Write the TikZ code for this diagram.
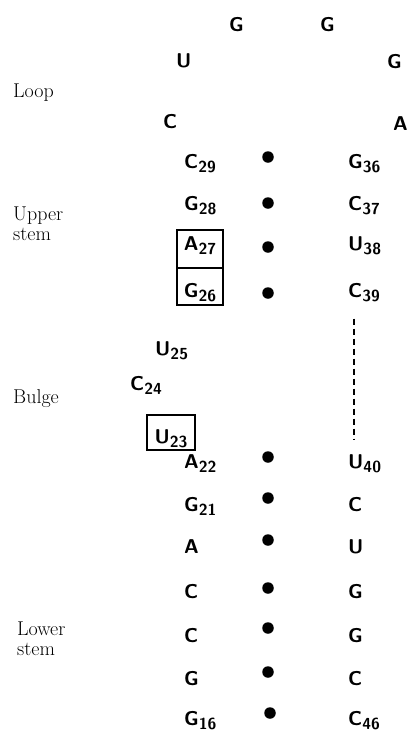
\documentclass[tikz,border=0pt]{standalone}
\usepackage{tikz}
\usetikzlibrary{positioning}
\newcommand\nsub[1]{\raisebox{-4pt}{\fontsize{16}{16}\selectfont #1}}

\begin{document}
\begin{tikzpicture}[
  x=1pt, y=-1pt,
  nt/.style={anchor=base west, inner sep=0pt, font=\fontsize{20}{22}\selectfont\sffamily\bfseries},
  lab/.style={anchor=base west, inner sep=0pt, align=left, font=\fontsize{20}{20}\selectfont},
  bx/.style={nt, anchor=base, draw, line width=2.8pt, minimum width=46pt},
  pair/.style={circle, fill, inner sep=0pt, minimum size=11.5pt},
  dotline/.style={line width=2.8pt, dash pattern=on 6pt off 4pt}
]
\useasboundingbox (0,0) rectangle (409,734);
% labels
\node[lab] (lloop) at (13,97) {Loop};
\node[lab, anchor=north west] (lupper) at (13,207) {Upper\\stem};
\node[lab] (lbulge) at (13,403) {Bulge};
\node[lab, anchor=north west] (llower) at (17,622) {Lower\\stem};
% loop
\node[nt] (g1) at (229,31) {G};
\node[nt] (g2) at (320,31) {G};
\node[nt] (u1) at (176,67) {U};
\node[nt] (g3) at (387,68) {G};
\node[nt] (c1) at (163,128) {C};
\node[nt] (a1) at (393,130) {A};
% upper stem
\node[nt] (c29) at (184,168) {C\nsub{29}};
\node[nt] (g28) at (184,210) {G\nsub{28}};
\node[bx, text height=20pt, text depth=18pt] (a27) at (200,250) {A\nsub{27}};
\node[bx, text height=29pt, text depth=8pt] (g26) at (200,297) {G\nsub{26}};
\node[nt] (g36) at (348,168) {G\nsub{36}};
\node[nt] (c37) at (348,210) {C\nsub{37}};
\node[nt] (u38) at (348,250) {U\nsub{38}};
\node[nt] (c39) at (348,297) {C\nsub{39}};
\node[pair] (p29) at (268,157) {};
\node[pair] (p28) at (268,203) {};
\node[pair] (p27) at (268,247) {};
\node[pair] (p26) at (268,293) {};
% bulge
\node[nt] (u25) at (155,355) {U\nsub{25}};
\node[nt] (c24) at (130,390) {C\nsub{24}};
\node[bx, text height=28pt, text depth=7pt, minimum width=48pt] (u23) at (171,443) {U\nsub{23}};
% lower stem
\node[nt] (a22) at (184,468) {A\nsub{22}};
\node[nt] (g21) at (184,511) {G\nsub{21}};
\node[nt] (a2) at (184,553) {A};
\node[nt] (c2) at (184,598) {C};
\node[nt] (c3) at (184,642) {C};
\node[nt] (g4) at (184,685) {G};
\node[nt] (g16) at (184,725) {G\nsub{16}};
\node[nt] (u40) at (348,468) {U\nsub{40}};
\node[nt] (c4) at (348,511) {C};
\node[nt] (u2) at (348,553) {U};
\node[nt] (g5) at (348,598) {G};
\node[nt] (g6) at (348,642) {G};
\node[nt] (c5) at (348,685) {C};
\node[nt] (c46) at (348,725) {C\nsub{46}};
\node[pair] (p22) at (268,457) {};
\node[pair] (p21) at (268,498) {};
\node[pair] (pa) at (268,540) {};
\node[pair] (pc1) at (268,588) {};
\node[pair] (pc2) at (268,628) {};
\node[pair] (pg) at (268,672) {};
\node[pair] (p16) at (270,713) {};
% gap
\draw[dotline, shorten <=17pt, shorten >=15pt] ([xshift=6pt]c39.south west) -- ([xshift=6pt]u40.north west);
\end{tikzpicture}
\end{document}
